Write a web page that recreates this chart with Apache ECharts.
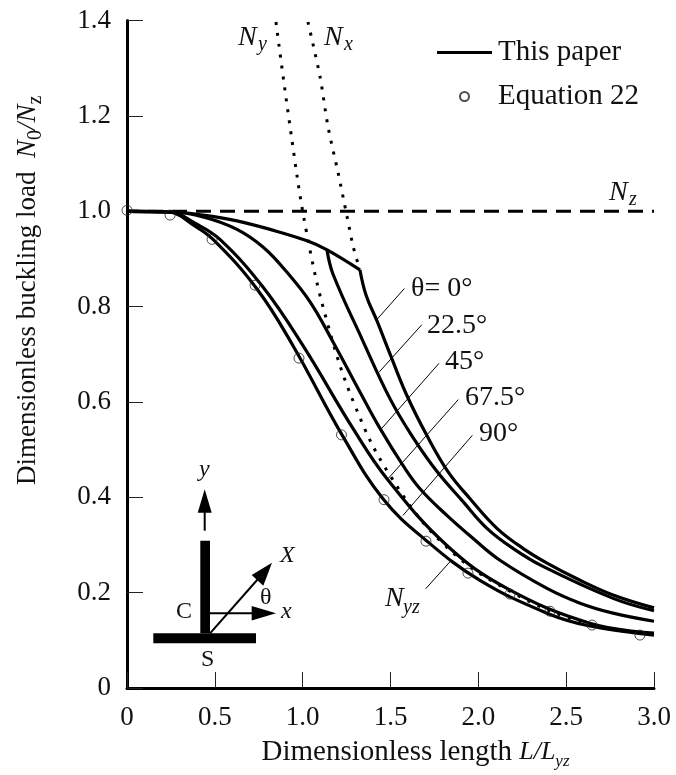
<!DOCTYPE html>
<html><head><meta charset="utf-8">
<style>html,body{margin:0;padding:0;background:#fff}#c{width:676px;height:775px}</style>
<script src="https://cdn.jsdelivr.net/npm/echarts@6/dist/echarts.min.js"></script>
</head><body><div id="c"></div>
<script>
// Values
const xTicks = [0,0.5,1.0,1.5,2.0,2.5,3.0];
const yTicks = [0,0.2,0.4,0.6,0.8,1.0,1.2,1.4];

const envX = [0,0.245,0.433,0.626,0.814,1.025,1.139,1.326];
const envY = [1.0,0.999,0.992,0.980,0.962,0.938,0.919,0.877];

const t0X = [1.326,1.361,1.423,1.497,1.594,1.708,1.827,1.953,2.106,2.254,2.391,2.579,2.767,3.0];
const t0Y = [0.877,0.824,0.770,0.701,0.613,0.529,0.454,0.397,0.335,0.293,0.262,0.226,0.195,0.168];

const t22X = [1.139,1.173,1.338,1.497,1.622,1.765,1.913,2.049,2.197,2.368,2.767,3.0];
const t22Y = [0.918,0.868,0.732,0.607,0.529,0.454,0.391,0.335,0.293,0.255,0.188,0.162];

const t45X = [0,0.245,0.444,0.626,0.774,0.911,1.042,1.173,1.326,1.441,1.571,1.668,1.821,1.969,2.123,2.391,2.579,2.767,3.0];
const t45Y = [1.0,0.999,0.987,0.962,0.925,0.872,0.810,0.726,0.621,0.544,0.467,0.418,0.362,0.314,0.268,0.209,0.178,0.157,0.140];

const t67X = [0,0.245,0.387,0.529,0.774,1.002,1.287,1.480,1.821,2.163,2.635,3.0];
const t67Y = [1.0,0.998,0.975,0.941,0.841,0.718,0.544,0.439,0.299,0.209,0.136,0.115];

const t90X = [0,0.245,0.370,0.490,0.740,0.945,1.224,1.457,1.708,2.009,2.391,2.635,3.0];
const t90Y = [1.0,0.998,0.973,0.941,0.837,0.718,0.531,0.397,0.308,0.226,0.157,0.130,0.111];

const nyX = [0.848,0.928,1.019,1.139,1.298,1.497,1.799,2.180,2.636,3.0];
const nyY = [1.397,1.178,0.962,0.768,0.592,0.446,0.303,0.203,0.133,0.113];

const nxX = [1.030,1.099,1.144,1.201,1.252,1.287,1.326];
const nxY = [1.397,1.282,1.178,1.082,0.990,0.927,0.877];

const nzX = [0,3.0];
const nzY = [1.0,1.0];

const eqX = [0,0.245,0.484,0.729,0.979,1.221,1.463,1.702,1.941,2.180,2.408,2.647,2.920];
const eqY = [1.002,0.992,0.941,0.845,0.692,0.531,0.395,0.308,0.241,0.197,0.161,0.132,0.111];

// Leader lines from the annotations to their curves
const leaders = [
  {x:[1.579,1.425], y:[0.838,0.774]},
  {x:[1.678,1.436], y:[0.762,0.663]},
  {x:[1.776,1.444], y:[0.681,0.542]},
  {x:[1.886,1.486], y:[0.605,0.439]},
  {x:[1.966,1.571], y:[0.530,0.362]},
  {x:[1.839,1.700], y:[0.265,0.208]}
];

const FONT = '"Liberation Serif","Times New Roman",serif';
const INK = '#111';
const zip = (a,b)=>a.map((v,i)=>[v,b[i]]);

const solid = (name,xs,ys)=>({type:'line',name,data:zip(xs,ys),symbol:'none',smooth:0.4,
  lineStyle:{color:'#000',width:3.2},itemStyle:{color:'#000'},z:3,animation:false});

const series = [
  solid('This paper',envX,envY),
  solid('θ=0°',t0X,t0Y),
  solid('22.5°',t22X,t22Y),
  solid('45°',t45X,t45Y),
  solid('67.5°',t67X,t67Y),
  solid('90°',t90X,t90Y),
  {type:'line',name:'Ny',data:zip(nyX,nyY),symbol:'none',smooth:0.4,lineStyle:{color:'#000',width:3,type:[3,8]},z:2,animation:false},
  {type:'line',name:'Nx',data:zip(nxX,nxY),symbol:'none',smooth:0.3,lineStyle:{color:'#000',width:3,type:[3,8]},z:2,animation:false},
  {type:'line',name:'Nz',data:zip(nzX,nzY),symbol:'none',lineStyle:{color:'#000',width:3,type:[15,9],dashOffset:3},z:2,animation:false},
  {type:'scatter',name:'Equation 22',data:zip(eqX,eqY),symbol:'circle',symbolSize:10,
    itemStyle:{color:'rgba(255,255,255,0)',borderColor:'#222',borderWidth:1},z:4,animation:false,clip:false}
];
leaders.forEach((l,i)=>series.push({type:'line',name:'leader'+i,data:zip(l.x,l.y),symbol:'none',
  lineStyle:{color:'#000',width:1},z:1,animation:false}));

// text annotation by left edge and baseline
const T = (x,base,text,size,italic)=>({type:'text',x,y:base-0.34*(size||28),z:10,silent:true,
  style:{text,x:0,y:0,fill:INK,font:(italic?'italic ':'')+(size||28)+'px '+FONT,textAlign:'left',textVerticalAlign:'middle',verticalAlign:'middle'}});
const R = (x,y,w,h)=>({type:'rect',shape:{x,y,width:w,height:h},style:{fill:'#000'},z:10,silent:true});
const P = (pts)=>({type:'polygon',shape:{points:pts},style:{fill:'#000'},z:10,silent:true});
const L = (x1,y1,x2,y2,w)=>({type:'line',shape:{x1,y1,x2,y2},style:{stroke:'#000',lineWidth:w},z:10,silent:true});

const graphic = [
  T(238,47,'N',28,true),T(258,52,'y',20,true),
  T(324,47,'N',28,true),T(344,52,'x',20,true),
  T(609,202,'N',28,true),T(629,207,'z',20,true),
  T(385,608,'N',28,true),T(403,615,'yz',20,true),
  T(411,298,'θ= 0°'),T(427,335,'22.5°'),T(445,371,'45°'),T(465,407,'67.5°'),T(479,443,'90°'),
  // section sketch
  R(153.3,633.3,102.7,10),R(200.3,540.7,9.7,92.6),
  L(204.7,530.7,204.7,510,2),P([[204.7,489.3],[197.7,512.7],[211.7,512.7]]),
  L(210,613.3,253,613.3,2),P([[276,613.3],[251.7,606],[251.7,620.6]]),
  L(210,633.3,258,579,2),P([[272,562.7],[251.7,575],[263.3,585.7]]),
  T(199,478,'y',24,true),T(280,564,'X',24,true),T(260,606,'θ',24),T(281,620,'x',24,true),
  T(176,620,'C',24),T(201,668,'S',24)
];

const chart = echarts.init(document.getElementById('c'),null,{renderer:'canvas'});
chart.setOption({
  backgroundColor:'#fff',
  animation:false,
  textStyle:{fontFamily:FONT,color:INK},
  grid:{left:127,right:22,top:20.6,bottom:85,containLabel:false},
  legend:{show:true,data:[{name:'This paper',icon:'path://M0,0H55V3.2H0Z'},{name:'Equation 22',icon:'circle'}],
    orient:'vertical',left:437,top:38,itemWidth:55,itemHeight:9,itemGap:15,
    padding:0,selectedMode:false,textStyle:{fontFamily:FONT,fontSize:29,color:INK,padding:[0,0,0,1]}},
  xAxis:{type:'value',min:0,max:3,interval:0.5,
    name:'{m|Dimensionless length }{i|L/L}{s|yz}',nameLocation:'middle',nameGap:46,
    nameTextStyle:{padding:[0,0,0,50],rich:{
      m:{fontFamily:FONT,fontSize:29,color:INK,lineHeight:36,verticalAlign:'middle'},
      i:{fontFamily:FONT,fontSize:26,color:INK,fontStyle:'italic',lineHeight:36,verticalAlign:'middle'},
      s:{fontFamily:FONT,fontSize:17,color:INK,fontStyle:'italic',lineHeight:36,verticalAlign:'bottom'}}},
    splitLine:{show:false},
    axisLine:{onZero:false,lineStyle:{color:'#000',width:3}},
    axisTick:{inside:true,length:16,lineStyle:{color:'#222',width:1}},
    axisLabel:{fontFamily:FONT,fontSize:27,color:INK,margin:16,hideOverlap:false,showMinLabel:true,showMaxLabel:true,
      formatter:v=>v===0?'0':v.toFixed(1)}},
  yAxis:{type:'value',min:0,max:1.4,interval:0.2,
    name:'{m|Dimensionless buckling load  }{i|N}{s0|0}{i|/N}{s|z}',nameLocation:'middle',nameGap:81,nameRotate:90,
    nameTextStyle:{padding:[0,0,0,128],rich:{
      m:{fontFamily:FONT,fontSize:27,color:INK,lineHeight:36,verticalAlign:'middle'},
      i:{fontFamily:FONT,fontSize:27,color:INK,fontStyle:'italic',lineHeight:36,verticalAlign:'middle'},
      s0:{fontFamily:FONT,fontSize:20,color:INK,lineHeight:36,verticalAlign:'bottom'},
      s:{fontFamily:FONT,fontSize:20,color:INK,lineHeight:36,verticalAlign:'bottom'}}},
    splitLine:{show:false},
    axisLine:{onZero:false,lineStyle:{color:'#000',width:3}},
    axisTick:{inside:true,length:16,lineStyle:{color:'#222',width:1}},
    axisLabel:{fontFamily:FONT,fontSize:27,color:INK,margin:16,padding:[4,0,0,0],showMinLabel:true,showMaxLabel:true,
      formatter:v=>v===0?'0':v.toFixed(1)}},
  series,
  graphic
});
</script></body></html>
